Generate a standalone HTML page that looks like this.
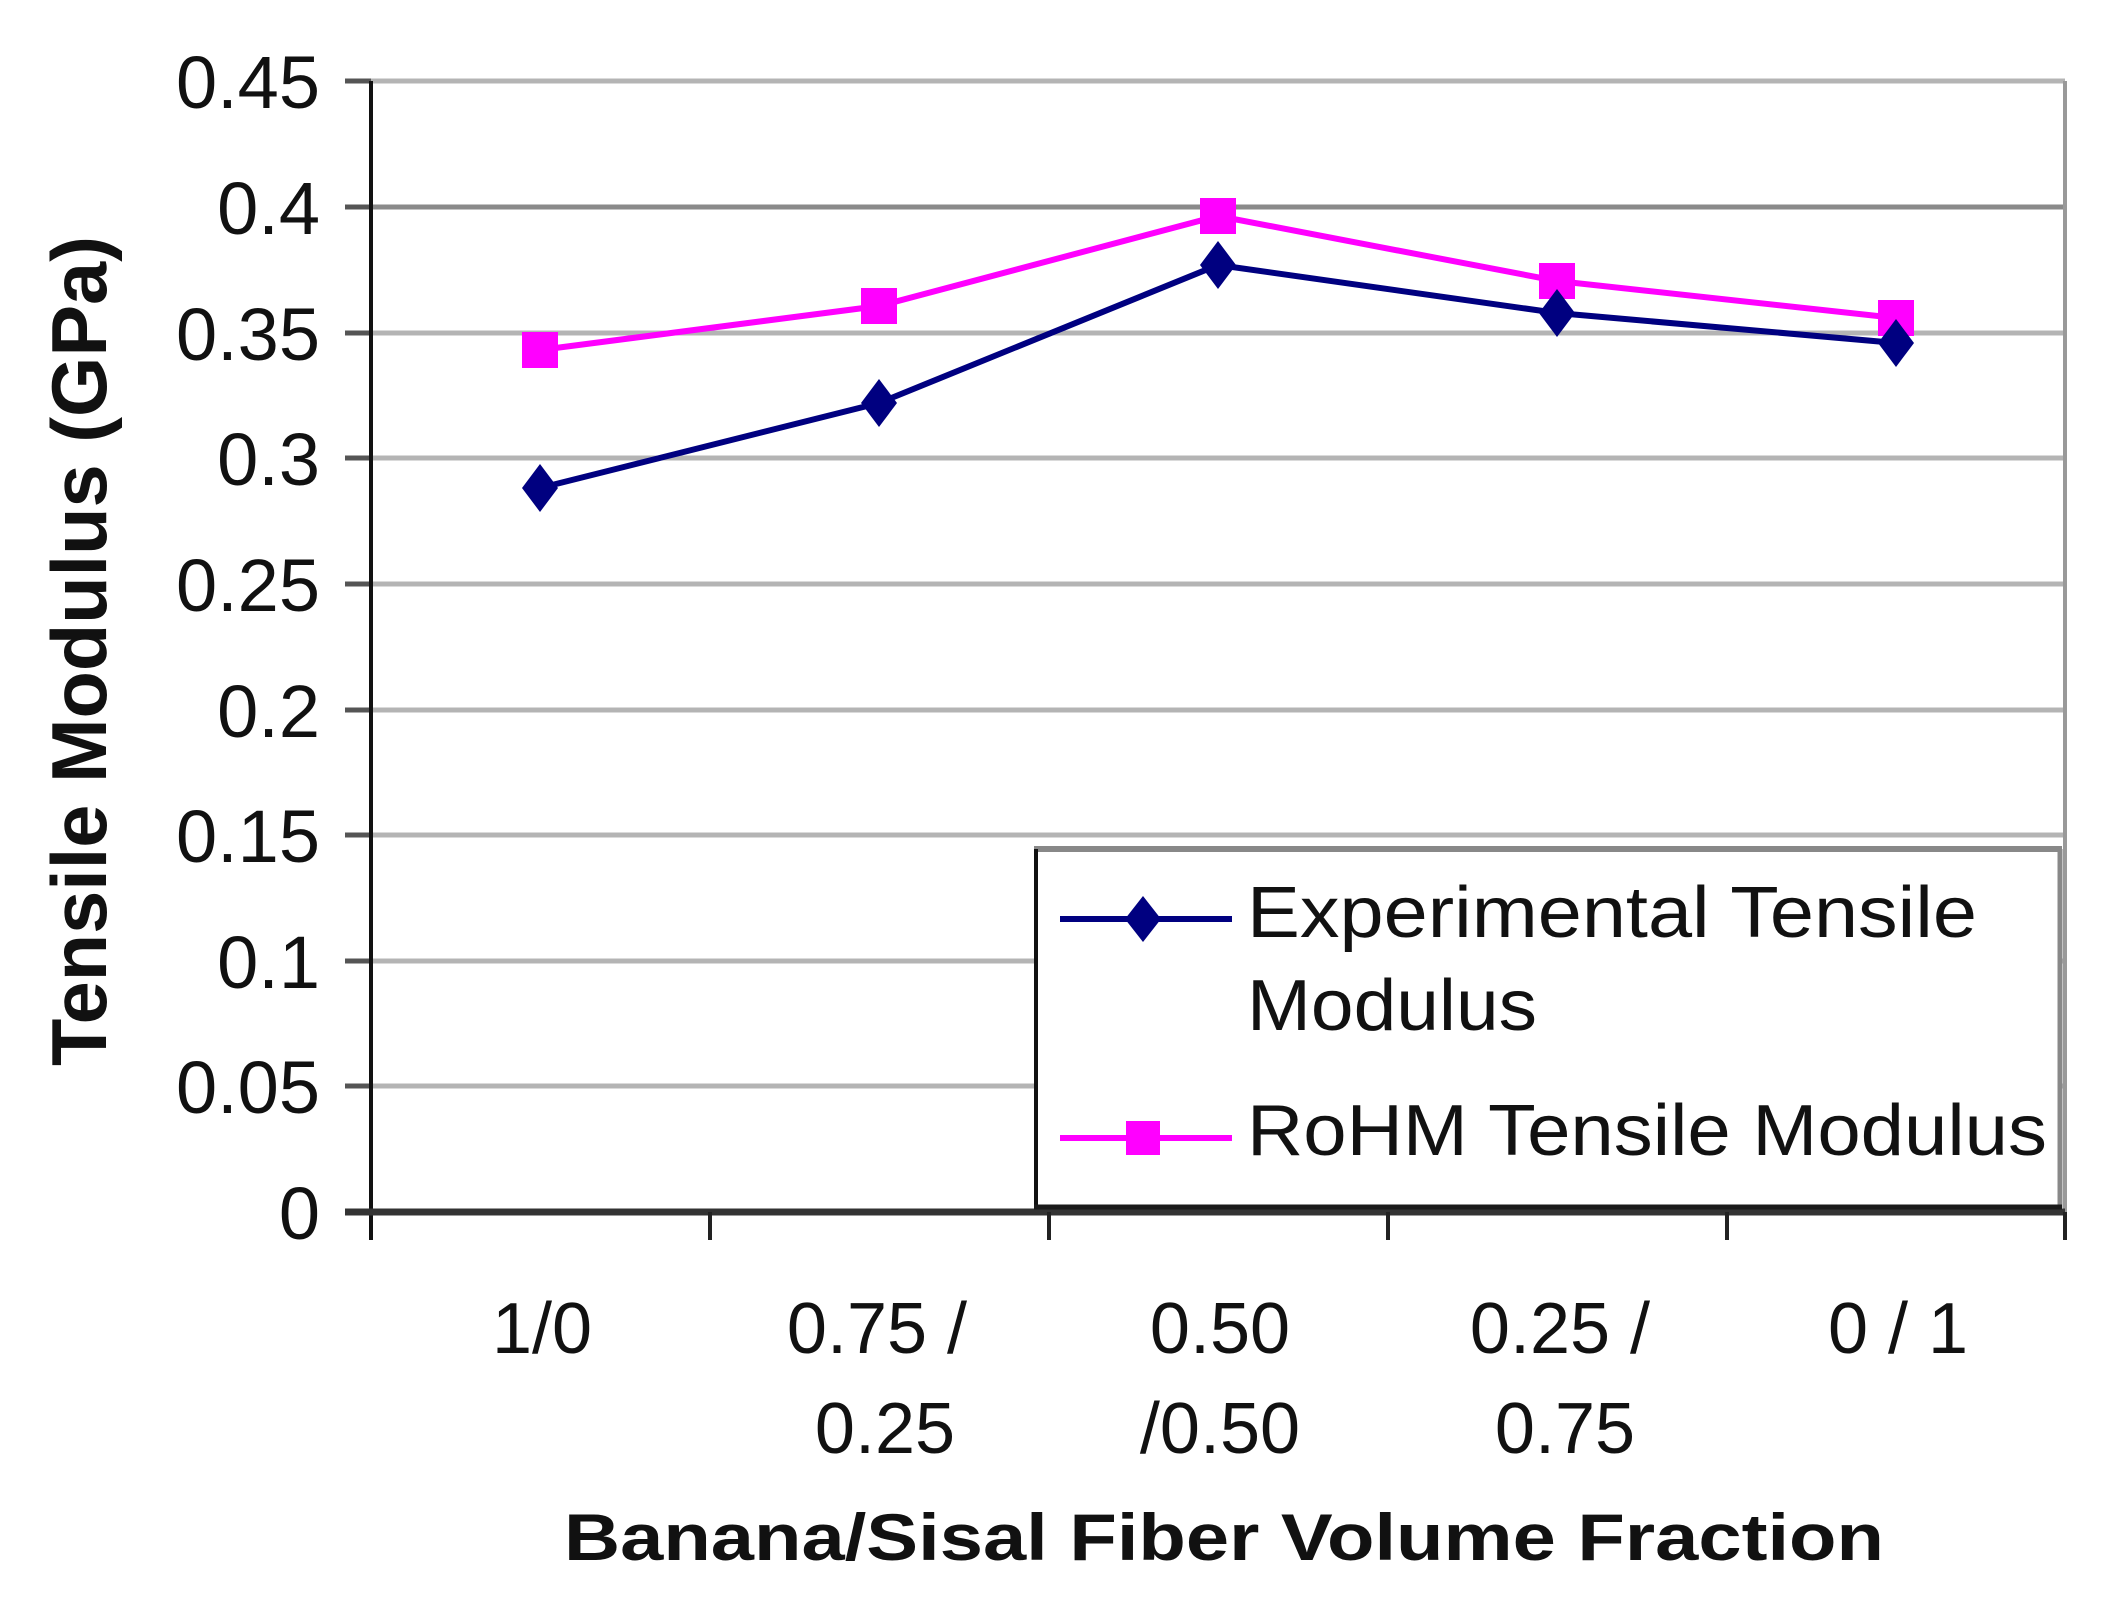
<!DOCTYPE html>
<html><head><meta charset="utf-8"><style>html,body{margin:0;padding:0;background:#fff}svg{display:block}</style></head>
<body>
<svg width="2106" height="1601" viewBox="0 0 2106 1601" xmlns="http://www.w3.org/2000/svg" font-family="Liberation Sans, Arial, sans-serif">
<rect width="2106" height="1601" fill="#fff"/>
<g stroke="#b4b4b4" stroke-width="5">
<line x1="371" y1="81" x2="2065" y2="81"/>
<line x1="371" y1="207" x2="2065" y2="207" stroke="#8a8a8a"/>
<line x1="371" y1="333" x2="2065" y2="333"/>
<line x1="371" y1="458" x2="2065" y2="458"/>
<line x1="371" y1="584" x2="2065" y2="584"/>
<line x1="371" y1="710" x2="2065" y2="710"/>
<line x1="371" y1="835" x2="2065" y2="835"/>
<line x1="371" y1="961" x2="2065" y2="961"/>
<line x1="371" y1="1086" x2="2065" y2="1086"/>
</g>
<line x1="2065" y1="81" x2="2065" y2="1212" stroke="#999" stroke-width="4"/>
<g stroke="#555" stroke-width="5">
<line x1="345" y1="81" x2="371" y2="81"/><line x1="345" y1="207" x2="371" y2="207"/>
<line x1="345" y1="333" x2="371" y2="333"/><line x1="345" y1="458" x2="371" y2="458"/>
<line x1="345" y1="584" x2="371" y2="584"/><line x1="345" y1="710" x2="371" y2="710"/>
<line x1="345" y1="835" x2="371" y2="835"/><line x1="345" y1="961" x2="371" y2="961"/>
<line x1="345" y1="1086" x2="371" y2="1086"/><line x1="345" y1="1212" x2="371" y2="1212"/>
</g>
<line x1="371" y1="81" x2="371" y2="1240" stroke="#111" stroke-width="4"/>
<line x1="345" y1="1212" x2="2065" y2="1212" stroke="#333" stroke-width="7"/>
<g stroke="#222" stroke-width="4">
<line x1="710" y1="1212" x2="710" y2="1240"/><line x1="1049" y1="1212" x2="1049" y2="1240"/>
<line x1="1388" y1="1212" x2="1388" y2="1240"/><line x1="1727" y1="1212" x2="1727" y2="1240"/>
<line x1="2065" y1="1212" x2="2065" y2="1240"/>
</g>
<g font-size="74" fill="#111" text-anchor="end">
<text x="320" y="108">0.45</text><text x="320" y="234">0.4</text>
<text x="320" y="360">0.35</text><text x="320" y="485">0.3</text>
<text x="320" y="611">0.25</text><text x="320" y="737">0.2</text>
<text x="320" y="862">0.15</text><text x="320" y="988">0.1</text>
<text x="320" y="1113">0.05</text><text x="320" y="1239">0</text>
</g>
<text transform="translate(106,651) rotate(-90)" text-anchor="middle" font-size="78" font-weight="bold" fill="#111" textLength="830" lengthAdjust="spacingAndGlyphs">Tensile Modulus (GPa)</text>
<polyline points="540,350 879,306 1218,216 1557,281 1896,318" fill="none" stroke="#ff00ff" stroke-width="6"/>
<polyline points="540,488 879,403 1218,265 1557,313 1896,343" fill="none" stroke="#000080" stroke-width="6"/>
<g fill="#ff00ff">
<rect x="522" y="332" width="36" height="36"/><rect x="861" y="288" width="36" height="36"/>
<rect x="1200" y="198" width="36" height="36"/><rect x="1539" y="263" width="36" height="36"/>
<rect x="1878" y="300" width="36" height="36"/>
</g>
<g fill="#000080">
<polygon points="540,464 558,488 540,512 522,488"/><polygon points="879,379 897,403 879,427 861,403"/>
<polygon points="1218,241 1236,265 1218,289 1200,265"/><polygon points="1557,289 1575,313 1557,337 1539,313"/>
<polygon points="1896,319 1914,343 1896,367 1878,343"/>
</g>
<rect x="1036" y="850" width="1024" height="357" fill="#fff" stroke="none"/>
<line x1="1034" y1="849" x2="2062" y2="849" stroke="#888" stroke-width="6"/>
<line x1="2060" y1="849" x2="2060" y2="1209" stroke="#888" stroke-width="5"/>
<line x1="1036" y1="849" x2="1036" y2="1209" stroke="#111" stroke-width="4"/>
<line x1="1034" y1="1207" x2="2062" y2="1207" stroke="#1a1a1a" stroke-width="5"/>
<line x1="1060" y1="919" x2="1232" y2="919" stroke="#000080" stroke-width="6"/>
<polygon points="1143,896 1161,919 1143,942 1125,919" fill="#000080"/>
<line x1="1060" y1="1138" x2="1232" y2="1138" stroke="#ff00ff" stroke-width="6"/>
<rect x="1126" y="1121" width="34" height="34" fill="#ff00ff"/>
<g font-size="72" fill="#111">
<text x="1247" y="937" textLength="730" lengthAdjust="spacingAndGlyphs">Experimental Tensile</text>
<text x="1247" y="1030" textLength="290" lengthAdjust="spacingAndGlyphs">Modulus</text>
<text x="1247" y="1155" textLength="800" lengthAdjust="spacingAndGlyphs">RoHM Tensile Modulus</text>
</g>
<g font-size="72" fill="#111" text-anchor="middle">
<text x="542" y="1353">1/0</text>
<text x="877" y="1353">0.75 /</text><text x="885" y="1453">0.25</text>
<text x="1220" y="1353">0.50</text><text x="1220" y="1453">/0.50</text>
<text x="1560" y="1353">0.25 /</text><text x="1565" y="1453">0.75</text>
<text x="1898" y="1353">0 / 1</text>
</g>
<text x="1224" y="1560" text-anchor="middle" font-size="66" font-weight="bold" fill="#111" textLength="1320" lengthAdjust="spacingAndGlyphs">Banana/Sisal Fiber Volume Fraction</text>
</svg>
</body></html>
